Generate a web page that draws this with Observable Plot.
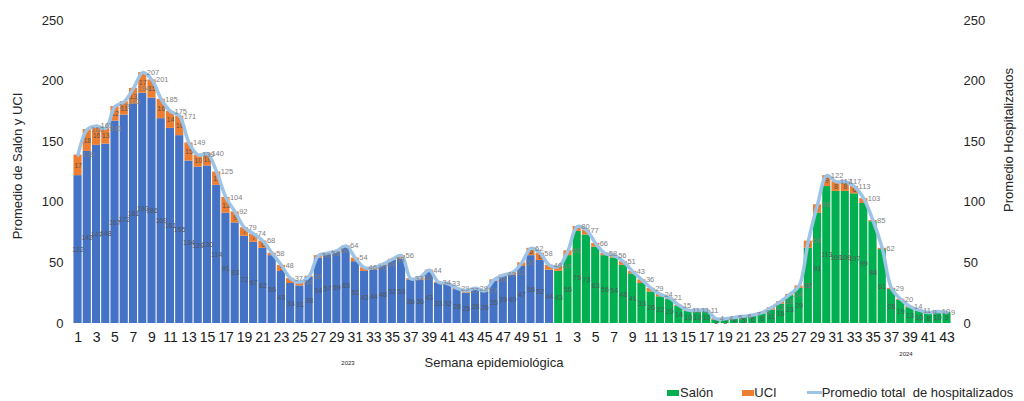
<!DOCTYPE html>
<html><head><meta charset="utf-8">
<script src="https://cdn.jsdelivr.net/npm/d3@7"></script>
<script src="https://cdn.jsdelivr.net/npm/@observablehq/plot@0.6"></script>
<style>
body{margin:0;background:#fff;}
#wrap{position:relative;width:1024px;height:401px;font-family:"Liberation Sans",Arial,sans-serif;color:#262626;overflow:hidden}
.abs{position:absolute;white-space:nowrap;line-height:1}
.rot{transform:translate(-50%,-50%) rotate(-90deg)}
.ctr{transform:translate(-50%,-50%)}
</style></head><body><div id="wrap"></div>
<script>
// ---- data ----
const weeks2023 = [1,2,3,4,5,6,7,8,9,10,11,12,13,14,15,16,17,18,19,20,21,22,23,24,25,26,27,28,29,30,31,32,33,34,35,36,37,38,39,40,41,42,43,44,45,46,47,48,49,50,51,52];
const salon2023 = [122,142,147,148,167,172,181,190,186,169,161,155,134,129,130,114,91,83,72,67,62,56,43,33,31,38,54,57,59,63,51,43,44,48,52,53,36,36,43,33,32,28,25,28,26,35,39,40,47,56,52,44];
const uci2023   = [17,18,16,13,12,11,13,17,15,16,14,16,15,10,10,11,13,9,7,7,6,2,5,4,3,1,2,1,1,1,3,3,2,1,1,3,1,2,1,1,1,1,2,1,1,1,1,2,3,6,6,4];
const weeks2024 = [1,2,3,4,5,6,7,8,9,10,11,12,13,14,15,16,17,18,19,20,21,22,23,24,25,26,27,28,29,30,31,32,33,34,35,36,37,38,39,40,41,42,43];
const salon2024 = [43,56,76,73,63,56,54,48,41,33,26,22,20,14,10,10,10,3,3,4,5,6,8,11,16,23,29,62,91,113,109,109,107,99,84,61,28,19,13,10,8,10,9];
const uci2024   = [4,4,4,4,3,2,2,3,2,3,3,2,1,1,1,1,1,1,1,1,1,1,1,2,2,1,2,6,7,9,8,8,6,4,1,1,1,1,1,1,1,0,0];
const yTicks = [0,50,100,150,200,250];
const colors = {salon2023:"#4472C4", salon2024:"#00B050", uci:"#ED7D31", line:"#9DC3E6"};

// ---- table ----
const rows = [];
weeks2023.forEach((w,i)=>rows.push({key:`2023-${w}`, year:2023, week:w, salon:salon2023[i], uci:uci2023[i], total:salon2023[i]+uci2023[i]}));
weeks2024.forEach((w,i)=>rows.push({key:`2024-${w}`, year:2024, week:w, salon:salon2024[i], uci:uci2024[i], total:salon2024[i]+uci2024[i]}));
const keys = rows.map(d=>d.key);
const weekOf = new Map(rows.map(d=>[d.key,d.week]));
const tickKeys = rows.filter(d=>d.week%2===1).map(d=>d.key);

const chart = Plot.plot({
  width:1024, height:401,
  marginTop:20, marginBottom:78, marginLeft:73, marginRight:73,
  style:{fontFamily:'"Liberation Sans", Arial, sans-serif', fontSize:"13px", color:"#262626", background:"#fff"},
  x:{type:"band", domain:keys, paddingInner:0.12, paddingOuter:0.05, round:false},
  y:{domain:[0,250]},
  color:{type:"identity"},
  marks:[
    Plot.barY(rows,{x:"key", y1:0, y2:"salon", fill:d=>d.year===2023?colors.salon2023:colors.salon2024}),
    Plot.barY(rows,{x:"key", y1:"salon", y2:"total", fill:colors.uci}),
    Plot.text(rows,{x:"key", y:d=>d.salon/2, text:"salon", fontSize:7, fill:"#555"}),
    Plot.text(rows.filter(d=>d.uci>=5),{x:"key", y:d=>d.salon+d.uci/2, text:"uci", fontSize:7, fill:"#555"}),
    Plot.line(rows,{x:"key", y:"total", stroke:colors.line, strokeWidth:3.5, curve:"catmull-rom"}),
    Plot.text(rows,{x:"key", y:"total", text:"total", dx:4, textAnchor:"start", fontSize:7.5, fill:"#7f7f7f"}),
    Plot.axisX({ticks:tickKeys, tickFormat:k=>weekOf.get(k), tickSize:0, tickPadding:9, fontSize:14, fontFamily:'"Liberation Sans Narrow", "Liberation Sans", Arial, sans-serif', fill:"#1a1a1a", label:null}),
    Plot.axisY({anchor:"left", ticks:yTicks, tickSize:0, tickPadding:10, fontSize:13, fill:"#262626", label:null}),
    Plot.axisY({anchor:"right", ticks:yTicks, tickSize:0, tickPadding:12, fontSize:13, fill:"#262626", label:null})
  ]
});
const wrap = document.getElementById("wrap");
wrap.appendChild(chart);
function add(html, style, cls){const d=document.createElement("div");d.className="abs "+(cls||"");d.innerHTML=html;Object.assign(d.style,style);wrap.appendChild(d);return d;}
add("Promedio de Salón y UCI",{left:"17px",top:"166px",fontSize:"13px"},"rot");
add("Promedio Hospitalizados",{left:"1008px",top:"140px",fontSize:"13px"},"rot");
add("Semana epidemiológica",{left:"494px",top:"362px",fontSize:"13px"},"ctr");
add("2023",{left:"348px",top:"363px",fontSize:"6px"},"ctr");
add("2024",{left:"906px",top:"354px",fontSize:"6px"},"ctr");
// legend
const lg = add("",{left:"667px",top:"386px",fontSize:"13px",display:"flex",alignItems:"center"});
lg.innerHTML = `<span style="display:inline-block;width:12px;height:6px;background:${colors.salon2024}"></span><span style="margin-left:1px">Salón</span>`+
 `<span style="display:inline-block;width:12px;height:6px;background:${colors.uci};margin-left:29px"></span><span>UCI</span>`+
 `<span style="display:inline-block;width:15px;height:3px;background:${colors.line};margin-left:30px"></span><span>Promedio total&nbsp; de hospitalizados</span>`;
</script></body></html>
